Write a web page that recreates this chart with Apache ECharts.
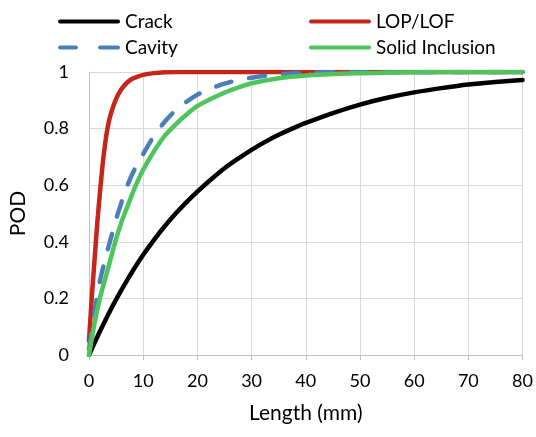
<!DOCTYPE html>
<html>
<head>
<meta charset="utf-8">
<script src="https://cdn.jsdelivr.net/npm/echarts@6/dist/echarts.min.js"></script>
<style>
  html, body { margin: 0; padding: 0; background: #fff; }
  #chart { width: 536px; height: 437px; }
</style>
</head>
<body>
<div id="chart"></div>
<script>
// Probability of detection vs. flaw length, per flaw type
const seriesNames = ['Crack', 'LOP/LOF', 'Cavity', 'Solid Inclusion'];

const crackLen = [0, 1, 2, 3, 4, 5, 6, 7, 8, 9, 10, 12, 14, 16, 18, 20, 22.5, 25, 27.5, 30, 32.5, 35, 37.5, 40, 45, 50, 55, 60, 65, 70, 75, 80];
const crackPod = [0, 0.042, 0.083, 0.122, 0.16, 0.196, 0.23, 0.263, 0.295, 0.325, 0.354, 0.407, 0.456, 0.5, 0.54, 0.577, 0.62, 0.66, 0.694, 0.725, 0.753, 0.778, 0.8, 0.82, 0.855, 0.885, 0.909, 0.928, 0.943, 0.956, 0.965, 0.972];

const lopLen = [0, 0.5, 1, 1.5, 2, 2.5, 3, 3.5, 4, 5, 6, 7, 8, 9, 10, 12, 14, 16, 20, 30, 40, 50, 60, 70, 80];
const lopPod = [0.05, 0.2, 0.33, 0.46, 0.57, 0.67, 0.75, 0.81, 0.85, 0.905, 0.94, 0.962, 0.976, 0.984, 0.99, 0.996, 0.999, 1, 1, 1, 1, 1, 1, 1, 1];

const cavityLen = [0, 1, 2, 3, 4, 5, 6, 7, 8, 9, 10, 12, 14, 16, 18, 20, 22, 24, 26, 28, 30, 33, 36, 40, 45, 50, 60, 70, 80];
const cavityPod = [0.02, 0.15, 0.26, 0.34, 0.41, 0.48, 0.54, 0.595, 0.64, 0.677, 0.71, 0.775, 0.825, 0.865, 0.895, 0.92, 0.938, 0.953, 0.964, 0.973, 0.98, 0.988, 0.993, 0.997, 0.999, 1, 1, 1, 1];

const solidLen = [0, 1, 2, 3, 4, 5, 6, 7, 8, 9, 10, 12, 14, 16, 18, 20, 22, 25, 28, 30, 35, 40, 45, 50, 60, 70, 80];
const solidPod = [0, 0.11, 0.2, 0.27, 0.34, 0.41, 0.47, 0.52, 0.57, 0.615, 0.655, 0.72, 0.775, 0.815, 0.85, 0.88, 0.9, 0.927, 0.948, 0.96, 0.978, 0.988, 0.993, 0.996, 0.999, 1, 1];

const xTicks = [0, 10, 20, 30, 40, 50, 60, 70, 80];
const yTicks = [0, 0.2, 0.4, 0.6, 0.8, 1];

const pairs = (xs, ys) => xs.map((x, i) => [x, ys[i]]);

const FONT = 'Lato, "Open Sans", sans-serif';
const GRID_COLOR = '#d9d9d9';
const AXIS_COLOR = '#bfbfbf';

const COLORS = ['#000000', '#c4261b', '#4a7fbc', '#4ec55c'];

// legend swatches: a solid bar, and two rounded dashes for the dashed series
const SOLID_ICON = 'path://M2,0 H60 A2,2 0 0 1 60,4 H2 A2,2 0 0 1 2,0 Z';
const DASH_ICON = 'path://M2,0 H18 A2,2 0 0 1 18,4 H2 A2,2 0 0 1 2,0 Z M42,0 H60 A2,2 0 0 1 60,4 H42 A2,2 0 0 1 42,0 Z';

const chart = echarts.init(document.getElementById('chart'), null, { renderer: 'canvas' });

function lineSeries(name, data, color, dash) {
  return {
    name: name,
    type: 'line',
    data: data,
    smooth: 0.2,
    symbol: 'none',
    lineStyle: {
      color: color,
      width: 4.5,
      type: dash || 'solid',
      cap: 'round',
      join: 'round'
    },
    itemStyle: { color: color },
    emphasis: { disabled: true }
  };
}

const legendCommon = {
  orient: 'vertical',
  itemWidth: 62,
  itemHeight: 4,
  itemGap: 5,
  textStyle: { fontFamily: FONT, fontSize: 19, lineHeight: 21, color: '#000' },
  selectedMode: false
};

chart.setOption({
  animation: false,
  backgroundColor: '#fff',
  grid: { left: 88, right: 13, top: 72, bottom: 82 },
  legend: [
    Object.assign({ left: 53, top: 6, data: [
      { name: seriesNames[0], icon: SOLID_ICON },
      { name: seriesNames[2], icon: DASH_ICON }
    ] }, legendCommon),
    Object.assign({ left: 304, top: 6, data: [
      { name: seriesNames[1], icon: SOLID_ICON },
      { name: seriesNames[3], icon: SOLID_ICON }
    ] }, legendCommon)
  ],
  xAxis: {
    type: 'value',
    min: xTicks[0],
    max: xTicks[xTicks.length - 1],
    interval: 10,
    name: 'Length (mm)',
    nameLocation: 'middle',
    nameGap: 48,
    nameTextStyle: { fontFamily: FONT, fontSize: 21, color: '#000' },
    axisLine: { show: true, lineStyle: { color: AXIS_COLOR, width: 1 } },
    axisTick: { show: true, length: 5, lineStyle: { color: AXIS_COLOR } },
    axisLabel: { fontFamily: FONT, fontSize: 18, color: '#000', margin: 17 },
    splitLine: { show: true, lineStyle: { color: GRID_COLOR, width: 1 } }
  },
  yAxis: {
    type: 'value',
    min: yTicks[0],
    max: yTicks[yTicks.length - 1],
    interval: 0.2,
    name: 'POD',
    nameLocation: 'middle',
    nameGap: 60,
    nameRotate: 90,
    nameTextStyle: { fontFamily: FONT, fontSize: 21, color: '#000' },
    axisLine: { show: true, lineStyle: { color: AXIS_COLOR, width: 1 } },
    axisTick: { show: false },
    axisLabel: {
      fontFamily: FONT, fontSize: 18, color: '#000', margin: 20,
      formatter: v => String(Math.round(v * 10) / 10)
    },
    splitLine: { show: true, lineStyle: { color: GRID_COLOR, width: 1 } }
  },
  series: [
    lineSeries(seriesNames[0], pairs(crackLen, crackPod), COLORS[0]),
    lineSeries(seriesNames[1], pairs(lopLen, lopPod), COLORS[1]),
    lineSeries(seriesNames[2], pairs(cavityLen, cavityPod), COLORS[2], [16, 18]),
    lineSeries(seriesNames[3], pairs(solidLen, solidPod), COLORS[3])
  ]
});
</script>
</body>
</html>
